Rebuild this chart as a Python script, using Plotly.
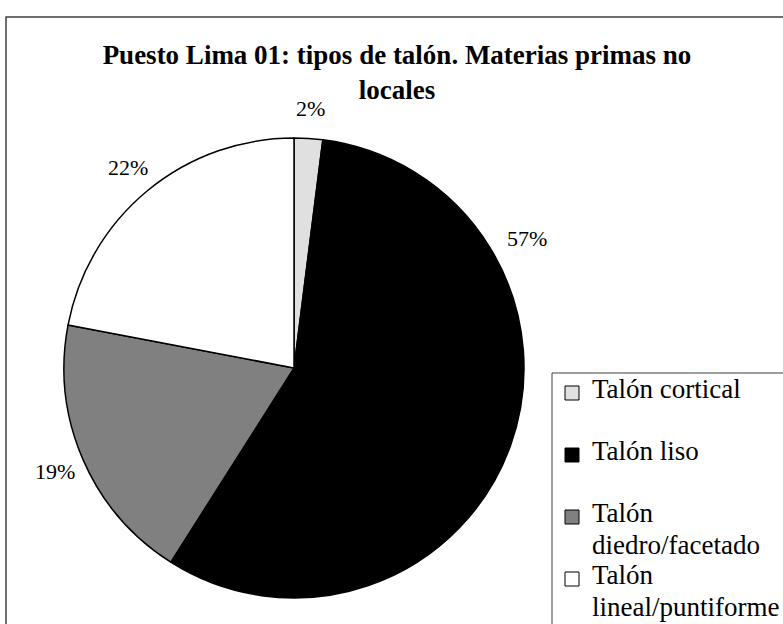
import math
import plotly.graph_objects as go

labels = ["Talón cortical", "Talón liso", "Talón diedro/facetado", "Talón lineal/puntiforme"]
values = [2, 57, 19, 22]
colors = ["#e0e0e0", "#000000", "#808080", "#ffffff"]
title_lines = ["Puesto Lima 01: tipos de talón. Materias primas no", "locales"]

W, H = 783, 624
SERIF = "Liberation Serif, Times New Roman, serif"

# pie geometry (pixels)
cx, cy, R = 294, 368, 230
label_r = 260  # outside-end data labels

fig = go.Figure()
fig.add_trace(go.Pie(
    labels=labels, values=values, sort=False, direction="clockwise", rotation=0,
    marker=dict(colors=colors, line=dict(color="#000000", width=1.5)),
    textinfo="none",
    domain=dict(x=[(cx - R) / W, (cx + R) / W], y=[1 - (cy + R) / H, 1 - (cy - R) / H]),
    showlegend=False, hoverinfo="label+percent",
))

annotations = []
shapes = [
    # chart border
    dict(type="rect", xref="paper", yref="paper", x0=6 / W, x1=1.05, y0=-0.05, y1=1 - 17 / H,
         line=dict(color="#404040", width=1.5), layer="below"),
]

# percentage labels at the middle angle of each slice (outside end)
total = sum(values)
cum = 0
for i, v in enumerate(values):
    mid = (cum + v / 2) / total * 2 * math.pi
    cum += v
    if i == 1:
        # this label was moved up in the source chart to keep it clear of the legend
        px, py = 527, 238
    else:
        px, py = cx + label_r * math.sin(mid), cy - label_r * math.cos(mid)
    annotations.append(dict(text=f"{v}%", xref="paper", yref="paper", x=px / W, y=1 - py / H,
                            xanchor="center", yanchor="middle", showarrow=False,
                            font=dict(family=SERIF, size=22, color="#000000")))

# legend (Excel style, box partly outside the picture)
lg_left, lg_top = 552, 373
shapes.append(dict(type="rect", xref="paper", yref="paper", x0=lg_left / W, x1=1.05,
                   y0=-0.05, y1=1 - lg_top / H, line=dict(color="#404040", width=1),
                   fillcolor="white", layer="above"))
base0, step, line_gap = 400, 62, 32
for i, (lab, col) in enumerate(zip(labels, colors)):
    base = base0 + i * step
    lines = lab.split(" ", 1) if len(lab) > 15 else [lab]
    shapes.append(dict(type="rect", xref="paper", yref="paper", x0=565 / W, x1=579 / W,
                       y0=1 - base / H, y1=1 - (base - 14) / H,
                       line=dict(color="#000000", width=1), fillcolor=col, layer="above"))
    for j, t in enumerate(lines):
        annotations.append(dict(text=t, xref="paper", yref="paper", x=590 / W,
                                y=1 - (base + j * line_gap + 6) / H,
                                xanchor="left", yanchor="bottom", showarrow=False,
                                font=dict(family=SERIF, size=27, color="#000000")))

fig.update_layout(
    width=W, height=H,
    font=dict(family=SERIF, color="#000000"),
    margin=dict(l=0, r=0, t=0, b=0, autoexpand=False),
    paper_bgcolor="white",
    title=dict(text="<b>" + "<br>".join(title_lines) + "</b>", x=397 / W, xanchor="center",
               y=1 - 64 / H, yanchor="top",
               font=dict(family=SERIF, size=27, color="#000000")),
    shapes=shapes,
    annotations=annotations,
)
fig.write_html("out.html", config={"displayModeBar": False},
               post_script="document.body.style.margin='0';")
